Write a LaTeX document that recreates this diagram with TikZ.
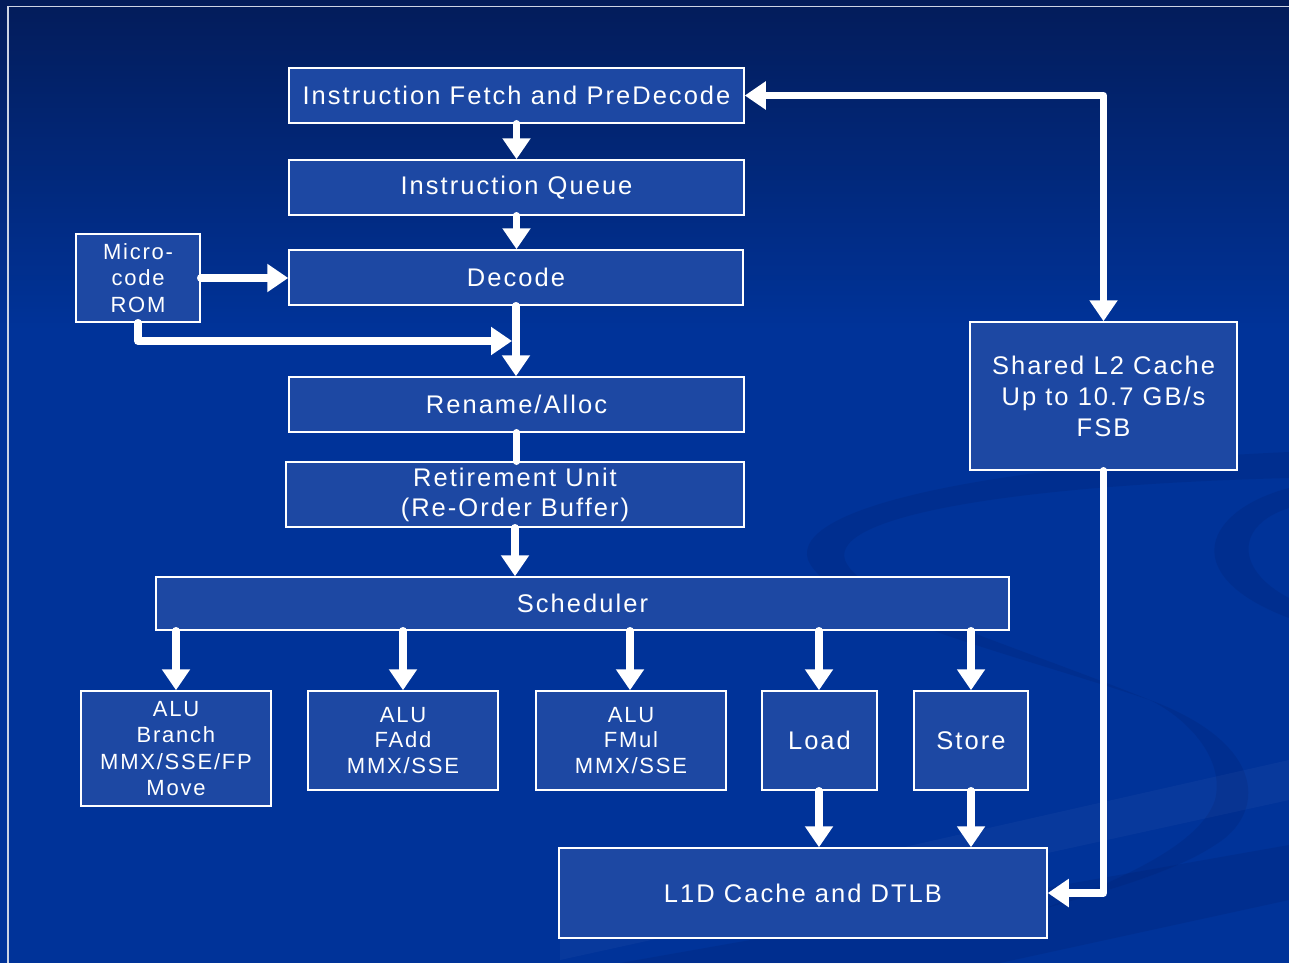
\documentclass[tikz,border=0pt]{standalone}
\usepackage{fontspec}
\setmainfont{Liberation Sans}[LetterSpace=8]
\usetikzlibrary{arrows.meta}
\definecolor{bgtop}{RGB}{3,28,90}
\definecolor{bgmain}{RGB}{0,51,153}
\definecolor{boxblue}{RGB}{29,72,163}
\definecolor{swoosh}{RGB}{0,34,115}
\definecolor{framegrey}{RGB}{205,212,228}

\begin{document}
\begin{tikzpicture}[x=1pt,y=-1pt,
  unit/.style={draw=white, line width=1.5pt, fill=boxblue, text=white,
    inner sep=0pt, align=center, font=\fontsize{25.5}{31}\selectfont},
  small/.style={font=\fontsize{22}{26.5}\selectfont},
  flow/.style={draw=white, line width=7.5pt, line cap=round, line join=round,
    -{Triangle[width=27pt,length=21pt]}},
  biflow/.style={draw=white, line width=7pt, line join=round,
    {Triangle[width=27pt,length=21pt]}-{Triangle[width=27pt,length=21pt]}},
  link/.style={draw=white, line width=7.5pt, line cap=round}]

% slide background
\useasboundingbox (0,0) rectangle (1289,963);
\fill[bgmain] (0,0) rectangle (1289,963);
\shade[top color=bgtop, bottom color=bgmain] (0,0) rectangle (1289,330);

% faint swoosh decoration
\begin{scope}[opacity=0.25]
  \fill[swoosh] (1289,452) .. controls (1000,465) and (790,505) .. (808,560)
    .. controls (830,610) and (1000,650) .. (1150,700)
    .. controls (1000,640) and (860,600) .. (845,560)
    .. controls (830,515) and (1020,485) .. (1289,478) -- cycle;
  \fill[swoosh] (1150,700) .. controls (1270,745) and (1265,815) .. (1215,845)
    .. controls (1170,875) and (1090,895) .. (1040,910)
    .. controls (1120,880) and (1200,845) .. (1215,800)
    .. controls (1225,760) and (1190,720) .. (1150,700) -- cycle;
  \fill[swoosh] (1289,488) .. controls (1205,510) and (1175,575) .. (1289,618)
    -- (1289,598) .. controls (1235,570) and (1235,525) .. (1289,508) -- cycle;
  \fill[swoosh] (620,963) -- (1289,845) -- (1289,900) -- (1000,963) -- cycle;
\end{scope}
\fill[white, opacity=0.03] (560,925) -- (1289,760) -- (1289,800) -- (560,960) -- cycle;

% slide frame
\draw[framegrey, line width=1.3pt] (8,963) -- (8,6.5) -- (1289,6.5);

% pipeline blocks
\node[unit, minimum width=455pt, minimum height=55pt] (fetch) at (516.5,95.5) {Instruction Fetch and PreDecode};
\node[unit, minimum width=455pt, minimum height=55pt] (queue) at (516.5,187.5) {Instruction Queue};
\node[unit, minimum width=454pt, minimum height=55pt] (decode) at (516,277.5) {Decode};
\node[unit, small, minimum width=124pt, minimum height=88pt] (rom) at (138,278) {Micro-\\code\\ROM};
\node[unit, minimum width=455pt, minimum height=55pt] (rename) at (516.5,404.5) {Rename/Alloc};
\node[unit, minimum width=458pt, minimum height=65pt, font=\fontsize{25.5}{30}\selectfont] (retire) at (515,494.5) {Retirement Unit\\(Re-Order Buffer)};
\node[unit, minimum width=853pt, minimum height=53pt] (sched) at (582.5,603.5) {Scheduler};

% execution units
\node[unit, small, minimum width=190pt, minimum height=115pt] (alub) at (176,748.5) {ALU\\Branch\\MMX/SSE/FP\\Move};
\node[unit, small, minimum width=190pt, minimum height=99pt, font=\fontsize{22}{25.5}\selectfont] (aluadd) at (403,740.5) {ALU\\FAdd\\MMX/SSE};
\node[unit, small, minimum width=190pt, minimum height=99pt, font=\fontsize{22}{25.5}\selectfont] (alumul) at (631,740.5) {ALU\\FMul\\MMX/SSE};
\node[unit, minimum width=115pt, minimum height=99pt] (load) at (819.5,740.5) {Load};
\node[unit, minimum width=114pt, minimum height=99pt] (store) at (971,740.5) {Store};

% caches
\node[unit, minimum width=488pt, minimum height=90pt] (l1d) at (803,893) {L1D Cache and DTLB};
\node[unit, minimum width=267pt, minimum height=148pt] (l2) at (1103.5,396) {Shared L2 Cache\\Up to 10.7 GB/s\\FSB};

% front-end flow
\draw[flow] (fetch.south) -- (queue.north);
\draw[flow] (queue.south) -- (queue.south |- decode.north);
\draw[flow] (decode.south) -- (decode.south |- rename.north);
\draw[flow] (rom.east) -- (rom.east -| decode.west);
\coordinate (merge) at (512,341);
\draw[flow] (rom.south) |- (merge);
\draw[link] (rename.south) -- (rename.south |- retire.north);
\draw[flow] (retire.south) -- (retire.south |- sched.north);

% dispatch to execution units
\draw[flow] (alub.north |- sched.south) -- (alub.north);
\draw[flow] (aluadd.north |- sched.south) -- (aluadd.north);
\coordinate (mulin) at (630,690.25);
\draw[flow] (mulin |- sched.south) -- (mulin);
\coordinate (loadin) at (819,690.25);
\draw[flow] (loadin |- sched.south) -- (loadin);
\draw[flow] (store.north |- sched.south) -- (store.north);

% memory paths
\coordinate (loadout) at (819,790.75);
\draw[flow] (loadout) -- (loadout |- l1d.north);
\draw[flow] (store.south) -- (store.south |- l1d.north);
\draw[biflow] (fetch.east) -| (l2.north);
\draw[flow] (l2.south) |- (l1d.east);
\end{tikzpicture}
\end{document}
